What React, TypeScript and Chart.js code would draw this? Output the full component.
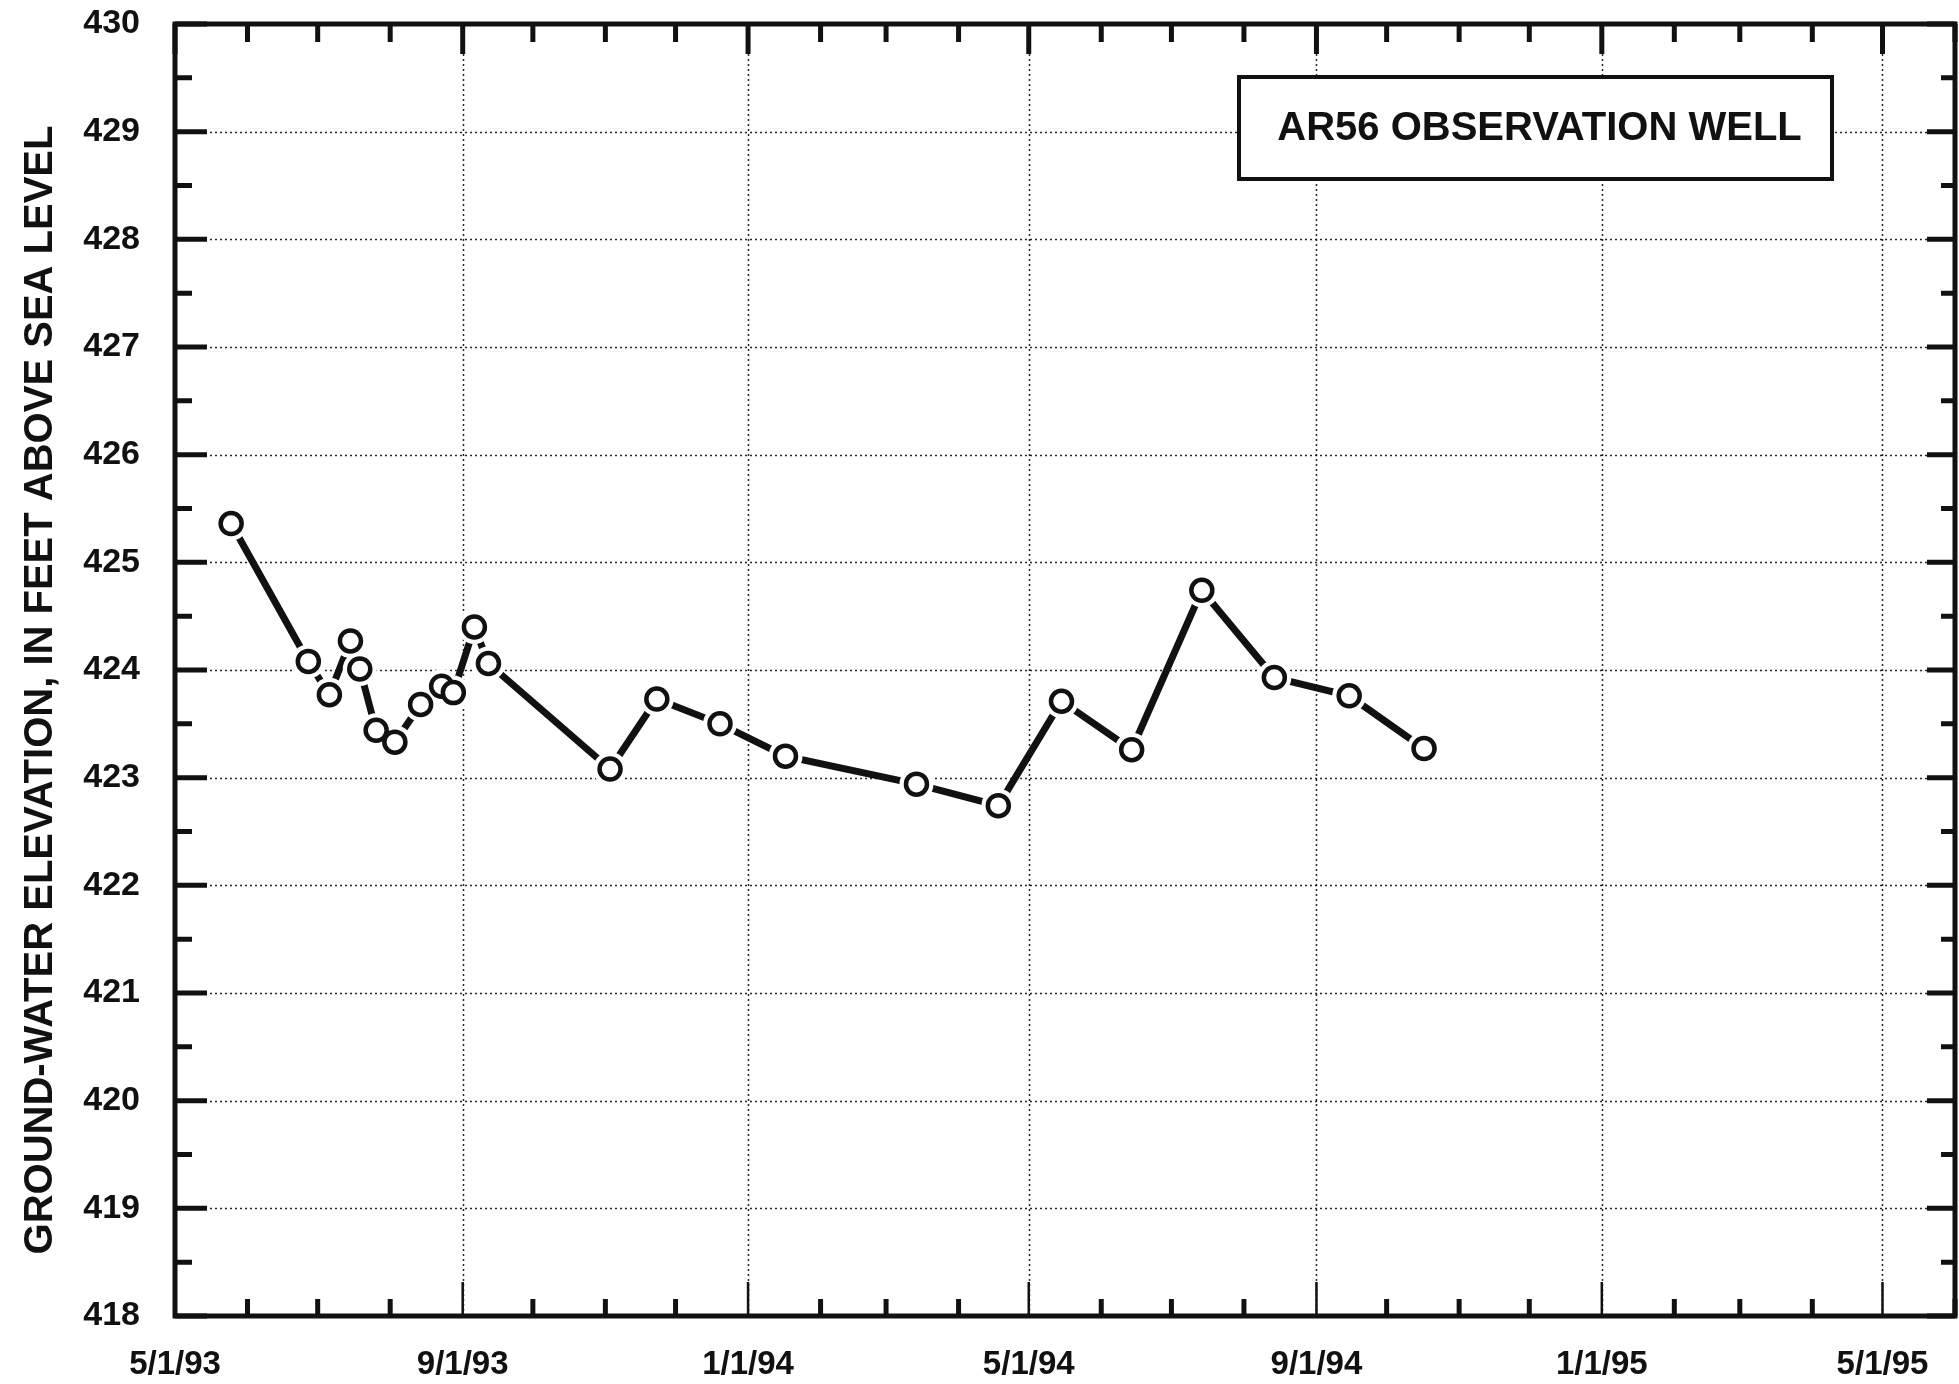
import React, { useEffect, useRef } from 'react';
import { Chart, registerables } from 'chart.js';

Chart.register(...registerables);

// ---- data ----
const sampleDates = [
  '1993-05-25', '1993-06-27', '1993-07-06', '1993-07-15', '1993-07-19', '1993-07-26',
  '1993-08-03', '1993-08-14', '1993-08-23', '1993-08-28', '1993-09-06', '1993-09-12',
  '1993-11-03', '1993-11-23', '1993-12-20', '1994-01-17', '1994-03-14', '1994-04-18',
  '1994-05-15', '1994-06-14', '1994-07-14', '1994-08-14', '1994-09-15', '1994-10-17',
];
const elevations = [
  425.36, 424.08, 423.77, 424.27, 424.01, 423.44,
  423.33, 423.68, 423.85, 423.79, 424.40, 424.06,
  423.08, 423.73, 423.50, 423.20, 422.94, 422.74,
  423.71, 423.26, 424.74, 423.93, 423.76, 423.27,
];
const yTickValues = [418, 419, 420, 421, 422, 423, 424, 425, 426, 427, 428, 429, 430];
const xAxisStart = '1993-05-01';
const xAxisEnd = '1995-06-01';
const labelEveryMonths = 4;
const chartTitle = 'AR56 OBSERVATION WELL';
const yAxisTitle = 'GROUND-WATER ELEVATION, IN FEET ABOVE SEA LEVEL';

const W = 1959;
const H = 1384;
const FONT = "'Liberation Sans', Arial, Helvetica, sans-serif";
const DAY = 86400000;

const parse = (s: string) => {
  const [y, m, d] = s.split('-').map(Number);
  return Date.UTC(y, m - 1, d);
};
const base = parse(xAxisStart);
const dayOf = (s: string) => Math.round((parse(s) - base) / DAY);
const endDay = dayOf(xAxisEnd);

// month-start ticks
const monthTicks: { day: number; label: string; major: boolean }[] = (() => {
  const out: { day: number; label: string; major: boolean }[] = [];
  const s = new Date(base);
  let y = s.getUTCFullYear();
  let m = s.getUTCMonth();
  let i = 0;
  while (true) {
    const t = Date.UTC(y, m, 1);
    const day = Math.round((t - base) / DAY);
    if (day > endDay) break;
    const major = i % labelEveryMonths === 0;
    out.push({ day, major, label: major ? `${m + 1}/1/${String(y).slice(2)}` : '' });
    m++;
    if (m > 11) { m = 0; y++; }
    i++;
  }
  return out;
})();

const framePlugin = {
  id: 'framePlugin',
  beforeDatasetsDraw(chart: any) {
    const { ctx, chartArea: a, scales } = chart;
    const x = scales.x;
    const y = scales.y;
    ctx.save();
    // dotted grid
    ctx.setLineDash([2, 3]);
    ctx.lineWidth = 1.5;
    ctx.strokeStyle = 'rgba(0,0,0,0.85)';
    yTickValues.forEach((v) => {
      if (v === yTickValues[0] || v === yTickValues[yTickValues.length - 1]) return;
      const py = Math.round(y.getPixelForValue(v)) + 0.5;
      ctx.beginPath();
      ctx.moveTo(a.left, py);
      ctx.lineTo(a.right, py);
      ctx.stroke();
    });
    monthTicks.forEach((t) => {
      if (!t.major || t.day === 0 || t.day === endDay) return;
      const px = Math.round(x.getPixelForValue(t.day)) + 0.5;
      ctx.beginPath();
      ctx.moveTo(px, a.top);
      ctx.lineTo(px, a.bottom);
      ctx.stroke();
    });
    ctx.setLineDash([]);
    // title box
    const bw = 593;
    const bh = 102;
    const bx = a.right - 123 - bw;
    const by = a.top + 53;
    ctx.fillStyle = '#fff';
    ctx.fillRect(bx, by, bw, bh);
    ctx.lineWidth = 4;
    ctx.strokeStyle = '#111';
    ctx.strokeRect(bx, by, bw, bh);
    ctx.fillStyle = '#111';
    ctx.font = `bold 40px ${FONT}`;
    ctx.textAlign = 'center';
    ctx.textBaseline = 'middle';
    ctx.fillText(chartTitle, bx + bw / 2 + 4, by + bh / 2 + 1);
    // y-axis title
    ctx.save();
    ctx.translate(41, 690);
    ctx.rotate(-Math.PI / 2);
    ctx.font = `bold 40px ${FONT}`;
    ctx.fillText(yAxisTitle, 0, 0);
    ctx.restore();
    ctx.restore();
  },
  afterDatasetsDraw(chart: any) {
    const { ctx, chartArea: a, scales } = chart;
    const x = scales.x;
    const y = scales.y;
    ctx.save();
    ctx.strokeStyle = '#111';
    ctx.lineCap = 'butt';
    // y ticks (integer major, half minor), left and right, pointing inward
    const y0 = yTickValues[0];
    const y1 = yTickValues[yTickValues.length - 1];
    for (let v = y0; v <= y1 + 1e-9; v += 0.5) {
      const major = Math.abs(v - Math.round(v)) < 1e-9;
      const py = y.getPixelForValue(v);
      ctx.lineWidth = 5;
      const lenL = major ? 32 : 17;
      const lenR = major ? 28 : 14;
      ctx.beginPath();
      ctx.moveTo(a.left, py);
      ctx.lineTo(a.left + lenL, py);
      ctx.moveTo(a.right, py);
      ctx.lineTo(a.right - lenR, py);
      ctx.stroke();
    }
    // x ticks, bottom and top
    monthTicks.forEach((t) => {
      const px = x.getPixelForValue(t.day);
      ctx.lineWidth = t.major ? 2.5 : 5;
      ctx.beginPath();
      ctx.moveTo(px, a.bottom);
      ctx.lineTo(px, a.bottom - (t.major ? 34 : 17));
      ctx.stroke();
      ctx.lineWidth = 5;
      ctx.beginPath();
      ctx.moveTo(px, a.top);
      ctx.lineTo(px, a.top + (t.major ? 30 : 18));
      ctx.stroke();
    });
    // frame
    ctx.lineWidth = 5;
    ctx.strokeRect(a.left, a.top, a.right - a.left, a.bottom - a.top);
    ctx.restore();
  },
};

export default function App() {
  const ref = useRef<HTMLCanvasElement>(null);
  useEffect(() => {
    const canvas = ref.current;
    if (!canvas) return;
    const pts = sampleDates.map((d, i) => ({ x: dayOf(d), y: elevations[i] }));
    const chart = new Chart(canvas, {
      type: 'line',
      data: {
        datasets: [
          { data: pts, borderColor: '#111', borderWidth: 7, pointRadius: 0, tension: 0, order: 3, fill: false },
          {
            data: pts, showLine: false, pointRadius: 17, pointBackgroundColor: '#fff',
            pointBorderColor: '#fff', pointBorderWidth: 0, order: 2,
          },
          {
            data: pts, showLine: false, pointRadius: 10.5, pointBackgroundColor: '#fff',
            pointBorderColor: '#111', pointBorderWidth: 4.5, order: 1,
          },
        ],
      },
      options: {
        responsive: false,
        animation: false,
        devicePixelRatio: 1,
        events: [],
        layout: { autoPadding: false, padding: { left: 0, right: 4, top: 24, bottom: 0 } },
        plugins: { legend: { display: false }, tooltip: { enabled: false }, title: { display: false } },
        scales: {
          x: {
            type: 'linear',
            min: 0,
            max: endDay,
            afterFit: (s: any) => { s.height = 68; s.paddingLeft = 0; s.paddingRight = 0; },
            afterBuildTicks: (s: any) => { s.ticks = monthTicks.map((t) => ({ value: t.day })); },
            ticks: {
              autoSkip: false,
              maxRotation: 0,
              minRotation: 0,
              padding: 29,
              color: '#111',
              font: { family: FONT, size: 33, weight: 'bold' },
              callback: (v: any) => {
                const t = monthTicks.find((m) => m.day === v);
                return t ? t.label : '';
              },
            },
            grid: { display: false, drawTicks: false },
            border: { display: false },
          },
          y: {
            type: 'linear',
            min: yTickValues[0],
            max: yTickValues[yTickValues.length - 1],
            afterFit: (s: any) => { s.width = 175; s.paddingTop = 0; s.paddingBottom = 0; },
            afterBuildTicks: (s: any) => { s.ticks = yTickValues.map((v) => ({ value: v })); },
            ticks: {
              padding: 35,
              color: '#111',
              font: { family: FONT, size: 34, weight: 'bold' },
              callback: (v: any) => String(v),
            },
            grid: { display: false, drawTicks: false },
            border: { display: false },
          },
        },
      },
      plugins: [framePlugin],
    } as any);
    return () => chart.destroy();
  }, []);
  return (
    <div style={{ position: 'absolute', left: 0, top: 0, width: W, height: H, background: '#fff' }}>
      <canvas ref={ref} width={W} height={H} style={{ display: 'block', width: W, height: H }} />
    </div>
  );
}
